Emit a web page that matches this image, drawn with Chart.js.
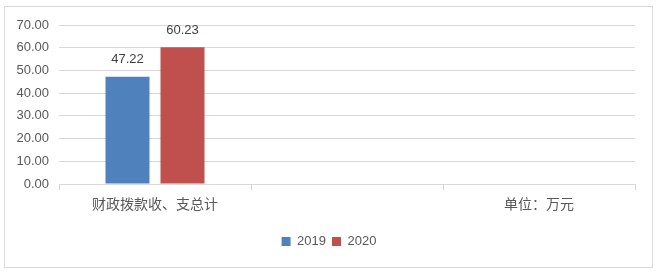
<!DOCTYPE html>
<html>
<head>
<meta charset="utf-8">
<script src="https://cdn.jsdelivr.net/npm/chart.js@4.4.0/dist/chart.umd.min.js"></script>
<style>
  body { margin: 0; background: #fff; }
  #frame { position: absolute; left: 4px; top: 6px; width: 647px; height: 260px; border: 1px solid #d9d9d9; }
  #wrap { position: absolute; left: 0; top: 0; width: 659px; height: 278px; }
</style>
</head>
<body>
<div id="frame"></div>
<div id="wrap"><canvas id="myChart" width="659" height="278"></canvas></div>
<script>
// categories and values
var categories = ["财政拨款收、支总计", "", "单位：万元"];
var seriesNames = ["2019", "2020"];
var values2019 = [47.22, null, null];
var values2020 = [60.23, null, null];
var yTicks = [0, 10, 20, 30, 40, 50, 60, 70];

var barColors = ["#4F81BD", "#C0504D"];
var textColor = "#595959";
var gridColor = "#d9d9d9";

// labels on top of the bars
var valueLabels = {
  id: "valueLabels",
  afterDatasetsDraw: function(chart) {
    var ctx = chart.ctx;
    ctx.save();
    ctx.font = "13px 'Liberation Sans'";
    ctx.fillStyle = "#404040";
    ctx.textAlign = "center";
    ctx.textBaseline = "middle";
    chart.data.datasets.forEach(function(ds, i) {
      chart.getDatasetMeta(i).data.forEach(function(bar, j) {
        if (ds.data[j] == null) return;
        ctx.fillText(ds.data[j].toFixed(2), bar.x, bar.y - 17);
      });
    });
    ctx.restore();
  }
};

// the legend sits a bit right of the page centre
var legendShift = {
  id: "legendShift",
  afterLayout: function(chart) {
    chart.legend.left += 9;
    chart.legend.right += 9;
  }
};

new Chart("myChart", {
  type: "bar",
  data: {
    labels: categories,
    datasets: [{
      label: seriesNames[0],
      data: values2019,
      backgroundColor: barColors[0]
    }, {
      label: seriesNames[1],
      data: values2020,
      backgroundColor: barColors[1]
    }]
  },
  options: {
    responsive: false,
    animation: false,
    layout: { padding: { left: 5, right: 24, top: 25, bottom: 20 } },
    datasets: {
      bar: { categoryPercentage: 0.573, barPercentage: 0.8 }
    },
    plugins: {
      legend: {
        position: "bottom",
        labels: {
          boxWidth: 9,
          boxHeight: 9,
          padding: 6,
          color: textColor,
          font: { family: "'Liberation Sans'", size: 13 }
        }
      },
      tooltip: { enabled: false }
    },
    scales: {
      x: {
        grid: {
          offset: true,
          drawOnChartArea: false,
          tickLength: 6,
          color: gridColor
        },
        border: { color: gridColor },
        ticks: {
          color: textColor,
          padding: 5,
          font: { family: "'Noto Sans CJK SC'", size: 14 }
        },
        afterFit: function(scale) { scale.height = 45; }
      },
      y: {
        min: 0,
        max: 70,
        afterBuildTicks: function(scale) {
          scale.ticks = yTicks.map(function(v) { return { value: v }; });
        },
        grid: { color: gridColor, drawTicks: false },
        border: { display: false },
        ticks: {
          color: textColor,
          padding: 10,
          font: { family: "'Liberation Sans'", size: 13 },
          callback: function(v) { return Number(v).toFixed(2); }
        },
        afterFit: function(scale) { scale.width = 54; }
      }
    }
  },
  plugins: [valueLabels, legendShift]
});
</script>
</body>
</html>
